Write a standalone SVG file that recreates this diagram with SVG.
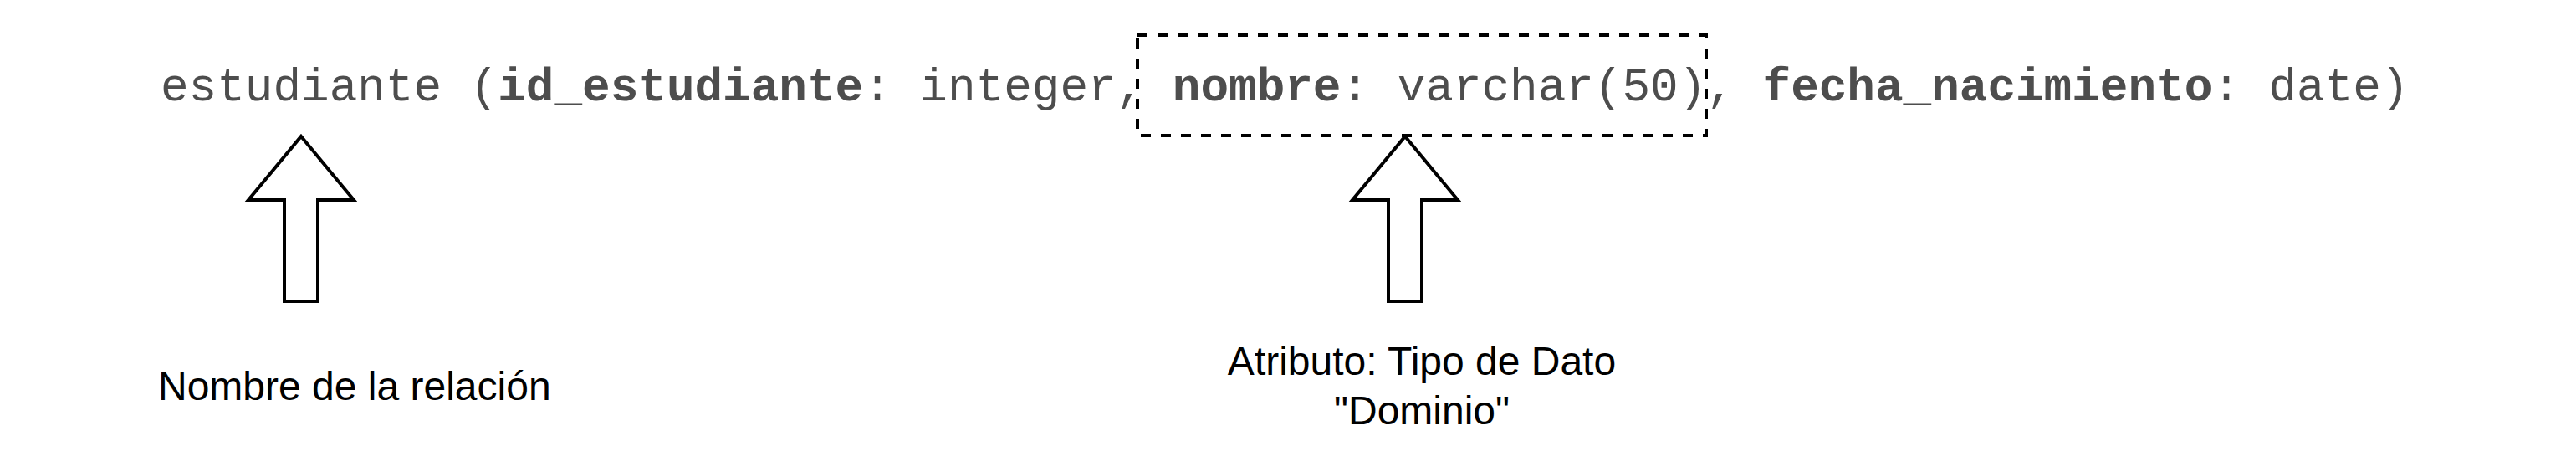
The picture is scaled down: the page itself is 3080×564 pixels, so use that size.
<svg xmlns="http://www.w3.org/2000/svg" width="3080" height="564" viewBox="0 0 3080 564">
  <style>
    .code { font-family: "Liberation Mono", "Courier New", monospace; font-size: 56px; fill: #4D4D4D; white-space: pre; }
    .b { font-weight: bold; }
    .label { font-family: "Liberation Sans", Arial, sans-serif; font-size: 48px; fill: #000000; }
    .arrow { fill: #FFFFFF; stroke: #000000; stroke-width: 4; stroke-linejoin: miter; }
    .dash { fill: none; stroke: #000000; stroke-width: 4; stroke-dasharray: 12 12; }
  </style>
  <rect width="3080" height="564" fill="#FFFFFF"/>
  <g id="relation-text">
    <text class="code" x="192" y="120" xml:space="preserve">estudiante (<tspan class="b">id_estudiante</tspan>: integer, <tspan class="b">nombre</tspan>: varchar(50), <tspan class="b">fecha_nacimiento</tspan>: date)</text>
  </g>
  <g id="attribute-box">
    <rect class="dash" x="1360" y="42" width="680" height="120"/>
  </g>
  <g id="arrow-relation">
    <polygon class="arrow" points="360,163 423,239 380,239 380,360 340,360 340,239 297,239"/>
  </g>
  <g id="arrow-attribute">
    <polygon class="arrow" points="1680,163 1743,239 1700,239 1700,360 1660,360 1660,239 1617,239"/>
  </g>
  <g id="label-relation">
    <text class="label" x="189" y="478">Nombre de la relación</text>
  </g>
  <g id="label-attribute">
    <text class="label" text-anchor="middle" x="1700" y="448">Atributo: Tipo de Dato</text>
    <text class="label" text-anchor="middle" x="1700" y="507">"Dominio"</text>
  </g>
  <g id="connectors"/>
</svg>
